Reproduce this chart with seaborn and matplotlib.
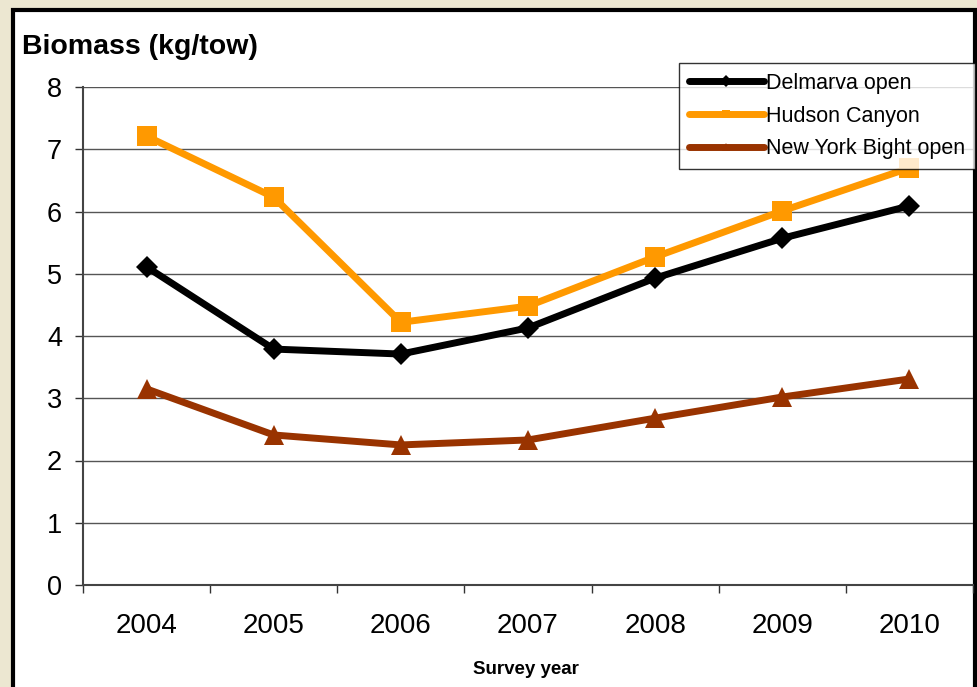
import pandas as pd
import seaborn as sns
import numpy as np
import matplotlib.pyplot as plt
from matplotlib.patches import Rectangle

years = [2004, 2005, 2006, 2007, 2008, 2009, 2010]
delmarva = [5.11, 3.79, 3.71, 4.13, 4.93, 5.57, 6.09]
hudson = [7.21, 6.23, 4.22, 4.48, 5.27, 6.01, 6.70]
nyb = [3.15, 2.41, 2.25, 2.33, 2.68, 3.02, 3.31]
sites = ['Delmarva open', 'Hudson Canyon', 'New York Bight open']
y_ticks = [0, 1, 2, 3, 4, 5, 6, 7, 8]

data = pd.DataFrame({
    'year': years * 3,
    'biomass': delmarva + hudson + nyb,
    'site': np.repeat(sites, len(years)),
})

sns.set_theme(style="white")
plt.rcParams['font.family'] = ['Liberation Sans', 'DejaVu Sans']

W, H = 977, 687
fig = plt.figure(figsize=(9.77, 6.87), dpi=100, facecolor='#ECE7D1')
# white chart frame, behind the axes
fig.patches.append(Rectangle((13 / W, -0.05), (975 - 13) / W, 1.05 - 10 / H,
                             transform=fig.transFigure, facecolor='white',
                             edgecolor='black', linewidth=3, zorder=-5))
ax = fig.add_axes([83 / W, 1 - 585 / H, (973 - 83) / W, (585 - 87) / H])
ax.set_facecolor('none')

palette = {'Delmarva open': 'black', 'Hudson Canyon': '#FF9900', 'New York Bight open': '#993300'}
markers = {'Delmarva open': 'D', 'Hudson Canyon': 's', 'New York Bight open': '^'}
sizes = {'Delmarva open': 11, 'Hudson Canyon': 15, 'New York Bight open': 15}
for s in sites:
    sns.lineplot(data=data[data['site'] == s], x='year', y='biomass', ax=ax,
                 color=palette[s], marker=markers[s], markersize=sizes[s],
                 markeredgewidth=0, linewidth=5, label=s, zorder=3)

ax.set_xlim(2003.5, 2010.5)
ax.set_ylim(0, 8)
ax.set_yticks(y_ticks)
ax.set_xticks(np.arange(2003.5, 2011, 1))
ax.set_xticklabels([])
ax.set_xticks(years, minor=True)
ax.set_xticklabels([str(y) for y in years], minor=True)
ax.tick_params(axis='x', which='major', direction='out', length=6, width=1, color='#333333', bottom=True)
ax.tick_params(axis='x', which='minor', length=0, pad=20, labelsize=20, labelcolor='black')
ax.tick_params(axis='y', direction='out', length=6, width=1, color='#333333', left=True, pad=9,
               labelsize=19.5, labelcolor='black')
ax.yaxis.grid(True, color='#555555', linewidth=1)
ax.set_axisbelow(True)
for side in ['top', 'right']:
    ax.spines[side].set_visible(False)
for side in ['left', 'bottom']:
    ax.spines[side].set_color('#444444')
    ax.spines[side].set_linewidth(1.5)
ax.set_xlabel('')
ax.set_ylabel('')

fig.text(22 / W, 1 - 47 / H, 'Biomass (kg/tow)', fontsize=20.5, fontweight='bold',
         ha='left', va='center', color='black')
fig.text(526 / W, 1 - 670 / H, 'Survey year', fontsize=13.5, fontweight='bold',
         ha='center', va='center', color='black')

leg = ax.legend(loc='upper left', bbox_to_anchor=(679 / W, 1 - 63 / H),
                bbox_transform=fig.transFigure, fontsize=15.5, frameon=True,
                fancybox=False, shadow=False, handlelength=3.5, handletextpad=0.1,
                borderpad=0.45, labelspacing=0.55, borderaxespad=0)
leg.get_frame().set_edgecolor('black')
leg.get_frame().set_linewidth(1)
for h in leg.legend_handles:
    h.set_markersize(6)
    h.set_solid_capstyle('round')
for t in leg.get_texts():
    t.set_color('black')

fig.savefig('out.png', dpi=100, facecolor=fig.get_facecolor())
